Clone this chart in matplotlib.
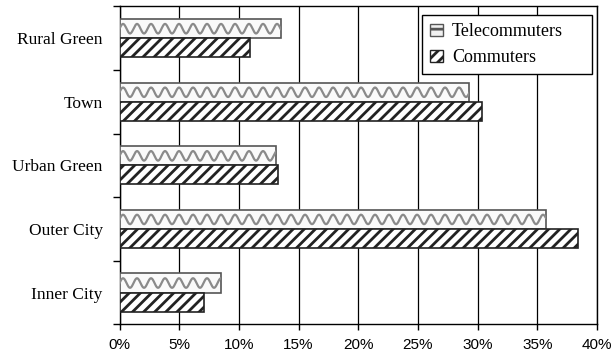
import numpy as np
import matplotlib.pyplot as plt
from matplotlib.patches import Patch

# values (percent of group)
areas = ["Inner City", "Outer City", "Urban Green", "Town", "Rural Green"]
telecommuters = [8.5, 35.7, 13.1, 29.3, 13.5]
commuters = [7.1, 38.4, 13.3, 30.4, 10.9]
xticks = [0, 5, 10, 15, 20, 25, 30, 35, 40]

plt.rcParams['hatch.linewidth'] = 2.0

fig = plt.figure(figsize=(6.13, 3.58), dpi=100)
ax = fig.add_axes([0.195, 0.094, 0.779, 0.888])

y = np.arange(len(areas))
h = 0.3

tele_bars = ax.barh(y + h / 2, telecommuters, height=h, color='#fafafa',
                    edgecolor='#555555', linewidth=1.2, zorder=3)
comm_bars = ax.barh(y - h / 2, commuters, height=h, color='white',
                    edgecolor='#222222', hatch='///', linewidth=1.2, zorder=3)

# wavy grey pattern inside the telecommuter bars
period = 40 * 14 / 477.5
for bar in tele_bars:
    x0, y0 = bar.get_x(), bar.get_y()
    w, bh = bar.get_width(), bar.get_height()
    xs = np.linspace(x0, x0 + w, 400)
    ys = y0 + bh / 2 + 0.25 * bh * np.sin(2 * np.pi * (xs - x0) / period)
    line, = ax.plot(xs, ys, color='#8a8a8a', lw=1.6, zorder=4)
    line.set_clip_path(bar)

ax.set_xlim(0, 40)
ax.set_ylim(-0.5, len(areas) - 0.5)
ax.set_xticks(xticks)
ax.set_xticklabels([f"{v}%" for v in xticks], family='Liberation Sans', fontsize=11)
ax.set_yticks(y)
ax.set_yticklabels(areas, family='Liberation Serif', fontsize=12.5)
ax.set_yticks(np.arange(-0.5, len(areas)), minor=True)
ax.tick_params(axis='y', which='major', length=0, pad=12)
ax.tick_params(axis='y', which='minor', length=5, width=1, direction='out')
ax.tick_params(axis='x', length=4, width=1, direction='out', pad=6)

ax.grid(axis='x', color='black', lw=0.9, zorder=0)
ax.set_axisbelow(True)
for s in ax.spines.values():
    s.set_linewidth(1.0)
    s.set_color('black')

handles = [Patch(facecolor='#f0f0f0', edgecolor='#555555', hatch='--', label='Telecommuters'),
           Patch(facecolor='white', edgecolor='#222222', hatch='///', label='Commuters')]
leg = ax.legend(handles=handles, loc='upper right', mode='expand',
                bbox_to_anchor=(0.6335, 0.79, 0.356, 0.183), borderaxespad=0,
                prop={'family': 'Liberation Serif', 'size': 13},
                fancybox=False, edgecolor='black', framealpha=1,
                handlelength=0.7, handleheight=0.7, handletextpad=0.5,
                borderpad=0.45, labelspacing=0.5)
leg.get_frame().set_linewidth(1.0)

fig.savefig("out.png", dpi=100)
